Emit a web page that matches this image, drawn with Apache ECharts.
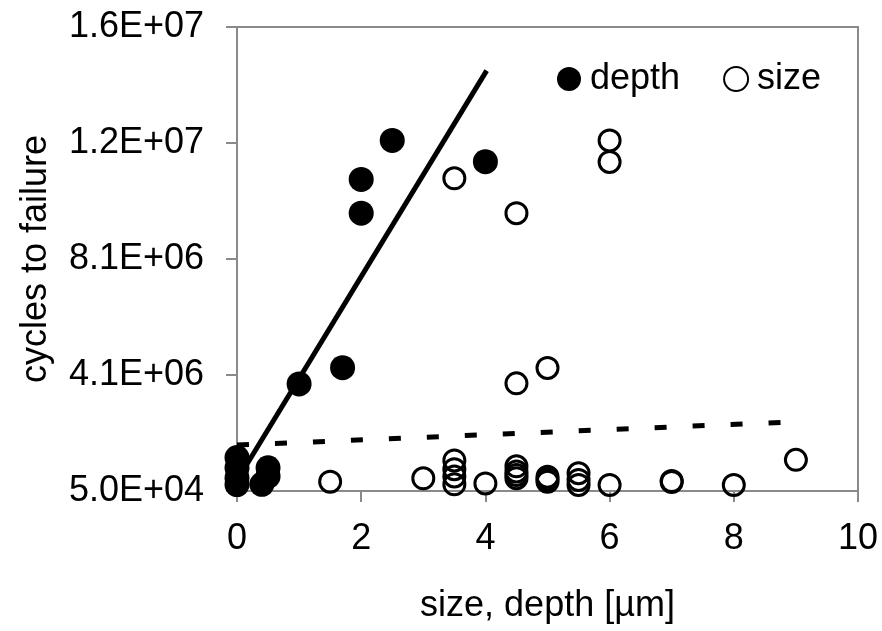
<!DOCTYPE html>
<html>
<head>
<meta charset="utf-8">
<script src="https://cdn.jsdelivr.net/npm/echarts@6/dist/echarts.min.js"></script>
<style>
  html, body { margin: 0; padding: 0; background: #fff; }
  #chart { width: 882px; height: 631px; }
</style>
</head>
<body>
<div id="chart"></div>
<script>
// values
var depthPoints = [
    [0, 1.2e6], [0, 8.5e5], [0, 5.0e5], [0, 2.7e5],
    [0.4, 2.8e5], [0.5, 5.5e5], [0.5, 8.5e5],
    [1.0, 3.73e6], [1.7, 4.29e6], [2.0, 9.6e6], [2.0, 1.076e7],
    [2.5, 1.21e7], [4.0, 1.137e7]
];
var sizePoints = [
    [1.5, 3.7e5], [3.0, 4.85e5],
    [3.5, 1.08e7], [3.5, 1.1e6], [3.5, 8.0e5], [3.5, 5.5e5], [3.5, 2.8e5],
    [4.0, 3.1e5],
    [4.5, 9.6e6], [4.5, 3.75e6], [4.5, 9.0e5], [4.5, 7.2e5], [4.5, 6.0e5], [4.5, 4.9e5],
    [5.0, 4.28e6], [5.0, 5.4e5], [5.0, 4.5e5], [5.0, 3.7e5],
    [5.5, 6.6e5], [5.5, 4.3e5], [5.5, 2.6e5],
    [6.0, 1.21e7], [6.0, 1.136e7], [6.0, 2.6e5],
    [7.0, 3.9e5], [7.0, 3.6e5], [8.0, 2.6e5], [9.0, 1.12e6]
];
// trend line end points
var depthTrend = [[0, 4.1e5], [4.02, 1.45e7]];
var sizeTrend = [[0, 1.63e6], [8.8, 2.41e6]];

var yTickLabels = ['5.0E+04', '4.1E+06', '8.1E+06', '1.2E+07', '1.6E+07'];
var yMin = 50000, yMax = 16000000;
var yStep = (yMax - yMin) / 4;

var font = '"Liberation Sans", Arial, sans-serif';
var axisGray = '#8a8a8a';

var myChart = echarts.init(document.getElementById('chart'));

var option = {
    animation: false,
    backgroundColor: '#fff',
    grid: {
        left: 237,
        top: 27,
        right: 24,
        bottom: 140,
        outerBoundsMode: 'none',
        containLabel: false,
        show: true,
        borderColor: axisGray,
        borderWidth: 2
    },
    legend: {
        data: ['depth', 'size'],
        left: 552,
        top: 56,
        itemWidth: 24,
        itemHeight: 24,
        itemGap: 43,
        textStyle: { fontFamily: font, fontSize: 36, color: '#000', padding: [0, 0, 0, 4] }
    },
    xAxis: {
        type: 'value',
        min: 0,
        max: 10,
        interval: 2,
        name: 'size, depth [µm]',
        nameLocation: 'middle',
        nameGap: 97,
        nameTextStyle: { fontFamily: font, fontSize: 36, color: '#000' },
        axisLine: { lineStyle: { color: axisGray, width: 2 } },
        axisTick: { show: true, length: 11, lineStyle: { color: axisGray, width: 2 } },
        axisLabel: { fontFamily: font, fontSize: 36, color: '#000', margin: 30 },
        splitLine: { show: false }
    },
    yAxis: {
        type: 'value',
        min: yMin,
        max: yMax,
        interval: yStep,
        name: 'cycles to failure',
        nameLocation: 'middle',
        nameGap: 183,
        nameTextStyle: { fontFamily: font, fontSize: 36, color: '#000' },
        axisLine: { show: true, lineStyle: { color: axisGray, width: 2 } },
        axisTick: { show: true, length: 11, lineStyle: { color: axisGray, width: 2 } },
        axisLabel: {
            fontFamily: font,
            fontSize: 36,
            color: '#000',
            margin: 33,
            formatter: function (v) {
                return yTickLabels[Math.round((v - yMin) / yStep)];
            }
        },
        splitLine: { show: false }
    },
    series: [
        {
            name: 'depth trend',
            type: 'line',
            data: depthTrend,
            showSymbol: false,
            silent: true,
            lineStyle: { color: '#000', width: 5 }
        },
        {
            name: 'size trend',
            type: 'line',
            data: sizeTrend,
            showSymbol: false,
            silent: true,
            lineStyle: { color: '#000', width: 5, type: [12, 26] }
        },
        {
            name: 'size',
            type: 'scatter',
            data: sizePoints,
            symbol: 'circle',
            symbolSize: 21,
            itemStyle: { color: 'rgba(0,0,0,0)', borderColor: '#000', borderWidth: 3, opacity: 1 }
        },
        {
            name: 'depth',
            type: 'scatter',
            data: depthPoints,
            symbol: 'circle',
            symbolSize: 25,
            itemStyle: { color: '#000', opacity: 1 }
        }
    ]
};

myChart.setOption(option);
</script>
</body>
</html>
